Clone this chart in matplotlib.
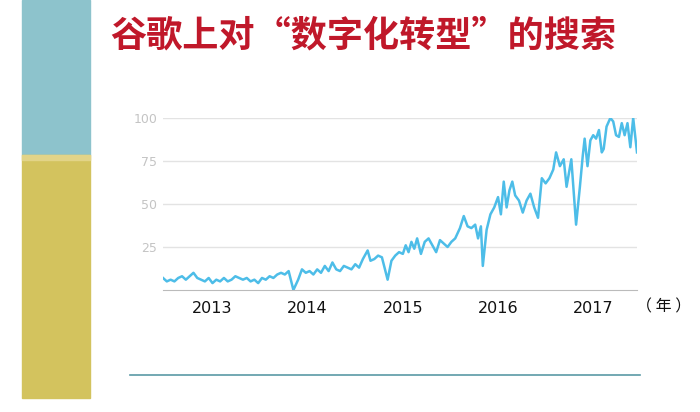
import matplotlib
matplotlib.use("Agg")
import matplotlib.pyplot as plt
from matplotlib.patches import Rectangle

years = [2012.48,2012.52,2012.56,2012.60,2012.64,2012.68,2012.72,2012.76,2012.80,2012.84,2012.88,2012.92,2012.96,
         2013.00,2013.04,2013.08,2013.12,2013.16,2013.20,2013.24,2013.28,2013.32,2013.36,2013.40,2013.44,2013.48,
         2013.52,2013.56,2013.60,2013.64,2013.68,2013.72,2013.76,2013.80,2013.85,2013.90,2013.94,2013.98,
         2014.02,2014.06,2014.10,2014.14,2014.18,2014.22,2014.26,2014.30,2014.34,2014.38,2014.42,2014.46,
         2014.50,2014.54,2014.58,2014.63,2014.66,2014.70,2014.74,2014.78,2014.84,2014.88,2014.92,2014.96,
         2015.00,2015.03,2015.06,2015.09,2015.12,2015.15,2015.19,2015.23,2015.27,2015.31,2015.35,2015.39,
         2015.43,2015.47,2015.51,2015.55,2015.60,2015.64,2015.68,2015.72,2015.76,2015.79,2015.82,2015.84,
         2015.88,2015.92,2015.96,2016.00,2016.03,2016.06,2016.09,2016.12,2016.15,2016.18,2016.22,2016.26,
         2016.30,2016.34,2016.38,2016.42,2016.46,2016.50,2016.54,2016.58,2016.61,2016.65,2016.69,2016.72,
         2016.77,2016.82,2016.86,2016.89,2016.91,2016.94,2016.97,2017.00,2017.03,2017.06,2017.09,2017.11,
         2017.14,2017.18,2017.21,2017.24,2017.27,2017.30,2017.33,2017.36,2017.39,2017.42,2017.46]
values = [7,5,6,5,7,8,6,8,10,7,6,5,7,
          4,6,5,7,5,6,8,7,6,7,5,6,4,
          7,6,8,7,9,10,9,11,0,6,12,10,
          11,9,12,10,14,11,16,12,11,14,13,12,
          15,13,18,23,17,18,20,19,6,17,20,22,
          21,26,22,28,24,30,21,28,30,26,22,29,
          27,25,28,30,36,43,37,36,38,30,37,14,
          35,44,48,54,44,63,48,58,63,55,52,45,
          52,56,48,42,65,62,65,70,80,72,76,60,
          76,38,60,78,88,72,87,90,88,93,80,82,
          95,100,98,90,89,97,90,97,83,100,80]
ytick_vals = [25, 50, 75, 100]
year_labels = [2013, 2014, 2015, 2016, 2017]

plt.rcParams['font.family'] = ['Noto Sans CJK SC', 'DejaVu Sans']
fig = plt.figure(figsize=(7, 4.12), dpi=100)
fig.patch.set_facecolor('white')

fig.patches.append(Rectangle((22/700, 1-155/412), 68/700, 155/412, transform=fig.transFigure, color='#8dc3cc', zorder=0))
fig.patches.append(Rectangle((22/700, 1-398/412), 68/700, 243/412, transform=fig.transFigure, color='#d3c35e', zorder=0))
fig.patches.append(Rectangle((22/700, 1-160/412), 68/700, 5/412, transform=fig.transFigure, color='#e2d488', zorder=1))

fig.text(0.157, 1-36/412, '谷歌上对“数字化转型”的搜索', color='#c0182a', fontsize=26,
         fontweight='bold', va='center', ha='left')

ax = fig.add_axes([163/700, 1-290/412, (637-163)/700, (290-118)/412])
ax.plot(years, values, color='#4dbde8', lw=1.8)
ax.set_xlim(2012.48, 2017.46)
ax.set_ylim(0, 100)
ax.set_yticks(ytick_vals)
ax.set_yticklabels([str(v) for v in ytick_vals], color='#c4c4c4', fontsize=9, family='DejaVu Sans')
ax.set_xticks(year_labels)
ax.set_xticklabels([str(v) for v in year_labels], fontsize=11.5, color='#111111', family='DejaVu Sans')
ax.tick_params(length=0, pad=8)
ax.tick_params(axis='y', pad=4)
ax.grid(axis='y', color='#e3e3e3', lw=1)
for s in ['top', 'right', 'left']:
    ax.spines[s].set_visible(False)
ax.spines['bottom'].set_color('#bbbbbb')
ax.set_axisbelow(True)

fig.text(636/700, 1-307/412, '（ 年 ）', fontsize=11.5, va='center', ha='left', color='#111111')
fig.add_artist(plt.Line2D([130/700, 640/700], [1-375/412, 1-375/412], color='#5a9aa6', lw=1.2))

fig.savefig('out.png', dpi=100)
